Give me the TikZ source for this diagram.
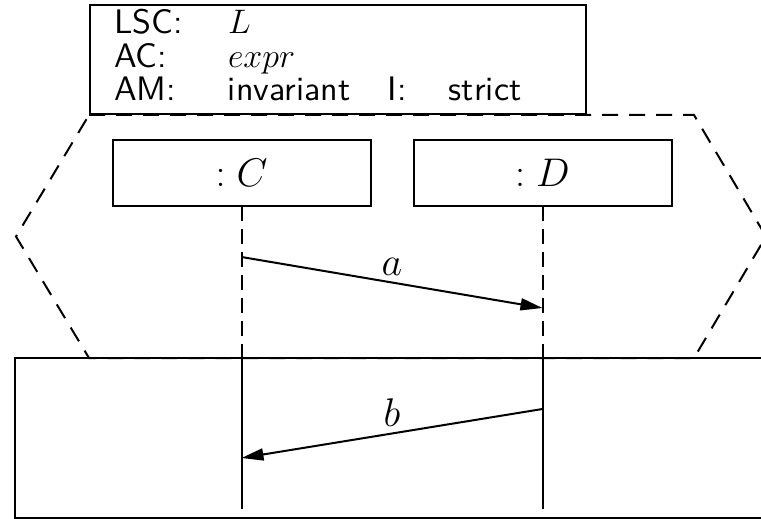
\RequirePackage{fix-cm}
\documentclass[tikz,border=0pt]{standalone}
\usepackage{fontspec}
\setsansfont{lmsans10-regular.otf}
\usetikzlibrary{arrows.meta,positioning}

\begin{document}
\begin{tikzpicture}[x=0.5pt, y=-0.5pt, >={Triangle[length=11pt,width=6pt]},
    line width=1pt,
    objbox/.style={draw, outer sep=0pt, minimum width=129pt, minimum height=33pt,
                   font=\fontsize{20}{24}\selectfont},
    hdrbox/.style={draw, outer sep=0pt, anchor=north west, inner xsep=12pt, inner ysep=0pt,
                   text width=224pt, minimum height=54.5pt, align=left,
                   font=\fontsize{17}{16}\sffamily\selectfont},
    prechart/.style={dash pattern=on 8pt off 5.5pt},
    lifedash/.style={dash pattern=on 7.5pt off 4pt},
    msg/.style={->},
    lbl/.style={midway, above=2pt, inner sep=1pt, font=\fontsize{20}{24}\selectfont}]

  \useasboundingbox (0,0) rectangle (761,519);

  % chart header
  \node[hdrbox] (hdr) at (90,5) {%
    \begin{tabular}{@{}p{57pt}@{}p{80pt}@{}p{30.5pt}@{}l@{}}
      LSC: & $L$ \\
      AC: & $expr$ \\
      AM: & invariant & I: & strict
    \end{tabular}};

  % prechart and main chart
  \draw[prechart] (89,115) -- (694,115) -- (766,236.5) -- (694,358)
    -- (89,358) -- (16,236.5) -- cycle;
  \draw (15,358) rectangle (790,518);

  % instances
  \node[objbox] (objC) at (241.5,173) {$:C$};
  \node[objbox] (objD) at (542.5,173) {$:D$};
  \coordinate (cut) at (0,358);
  \coordinate (bot) at (0,509);

  \draw[lifedash] (objC.south) -- (objC.south |- cut);
  \draw (objC.south |- cut) -- (objC.south |- bot);
  \draw[lifedash] (objD.south) -- (objD.south |- cut);
  \draw (objD.south |- cut) -- (objD.south |- bot);

  % messages
  \coordinate (aFrom) at (241.5,257);
  \coordinate (aTo) at (542.5,308);
  \coordinate (bFrom) at (542.5,409);
  \coordinate (bTo) at (241.5,458);
  \draw[msg] (aFrom) -- node[lbl] {$a$} (aTo);
  \draw[msg] (bFrom) -- node[lbl] {$b$} (bTo);
\end{tikzpicture}
\end{document}
